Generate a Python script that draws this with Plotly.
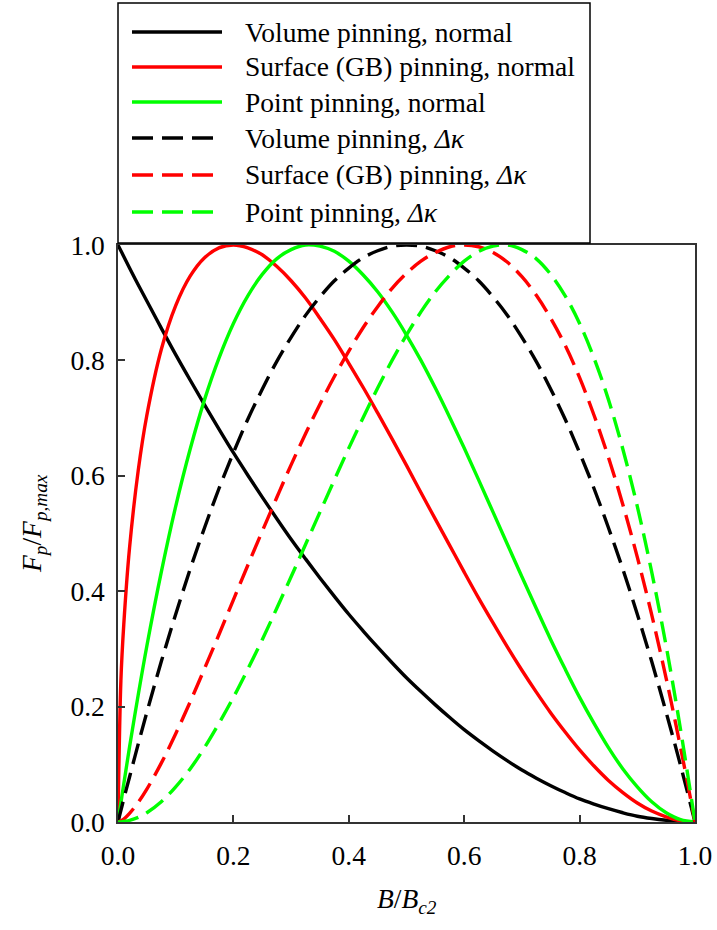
import plotly.graph_objects as go

# ---- data ----
b_field = [0, 0.005, 0.01, 0.02, 0.035, 0.05, 0.075, 0.1, 0.125, 0.15, 0.175, 0.2,
           0.225, 0.25, 0.275, 0.3, 0.325, 0.35, 0.375, 0.4, 0.425, 0.45, 0.475, 0.5,
           0.525, 0.55, 0.575, 0.6, 0.625, 0.65, 0.675, 0.7, 0.725, 0.75, 0.775, 0.8,
           0.825, 0.85, 0.875, 0.9, 0.925, 0.95, 0.975, 1.0]

volume_normal = [1.0, 0.990, 0.980, 0.960, 0.931, 0.903, 0.856, 0.810, 0.766, 0.723, 0.681, 0.640,
                 0.601, 0.563, 0.526, 0.490, 0.456, 0.423, 0.391, 0.360, 0.331, 0.303, 0.276, 0.250,
                 0.226, 0.203, 0.181, 0.160, 0.141, 0.123, 0.106, 0.090, 0.076, 0.063, 0.051, 0.040,
                 0.031, 0.023, 0.016, 0.010, 0.006, 0.003, 0.001, 0.0]
surface_normal = [0.0, 0.245, 0.342, 0.475, 0.609, 0.705, 0.819, 0.895, 0.946, 0.978, 0.995, 1.000,
                  0.995, 0.983, 0.963, 0.938, 0.908, 0.873, 0.836, 0.795, 0.753, 0.709, 0.664, 0.618,
                  0.571, 0.525, 0.479, 0.433, 0.388, 0.345, 0.303, 0.263, 0.225, 0.189, 0.156, 0.125,
                  0.097, 0.072, 0.051, 0.033, 0.019, 0.009, 0.002, 0.0]
point_normal = [0.0, 0.033, 0.066, 0.130, 0.220, 0.305, 0.433, 0.547, 0.646, 0.732, 0.804, 0.864,
                0.912, 0.949, 0.976, 0.992, 1.000, 0.998, 0.989, 0.972, 0.948, 0.919, 0.884, 0.844,
                0.800, 0.752, 0.701, 0.648, 0.593, 0.537, 0.481, 0.425, 0.370, 0.316, 0.265, 0.216,
                0.171, 0.129, 0.092, 0.061, 0.035, 0.016, 0.004, 0.0]
volume_dk = [0.0, 0.020, 0.040, 0.078, 0.135, 0.190, 0.278, 0.360, 0.438, 0.510, 0.578, 0.640,
             0.698, 0.750, 0.798, 0.840, 0.878, 0.910, 0.938, 0.960, 0.978, 0.990, 0.998, 1.000,
             0.998, 0.990, 0.978, 0.960, 0.938, 0.910, 0.878, 0.840, 0.798, 0.750, 0.698, 0.640,
             0.578, 0.510, 0.438, 0.360, 0.278, 0.190, 0.098, 0.0]
surface_dk = [0.0, 0.002, 0.005, 0.015, 0.034, 0.057, 0.102, 0.153, 0.208, 0.266, 0.325, 0.385,
              0.445, 0.504, 0.562, 0.619, 0.673, 0.724, 0.772, 0.816, 0.857, 0.893, 0.925, 0.951,
              0.972, 0.987, 0.997, 1.000, 0.997, 0.987, 0.970, 0.945, 0.913, 0.873, 0.826, 0.770,
              0.705, 0.632, 0.550, 0.459, 0.359, 0.249, 0.129, 0.0]
point_dk = [0.0, 0.000, 0.001, 0.003, 0.008, 0.016, 0.035, 0.061, 0.092, 0.129, 0.171, 0.216,
            0.265, 0.316, 0.370, 0.425, 0.481, 0.537, 0.593, 0.648, 0.701, 0.752, 0.800, 0.844,
            0.884, 0.919, 0.948, 0.972, 0.989, 0.998, 1.000, 0.992, 0.976, 0.949, 0.912, 0.864,
            0.804, 0.732, 0.646, 0.547, 0.433, 0.305, 0.160, 0.0]

series_names = ["Volume pinning, normal", "Surface (GB) pinning, normal", "Point pinning, normal",
                "Volume pinning, <i>Δκ</i>", "Surface (GB) pinning, <i>Δκ</i>", "Point pinning, <i>Δκ</i>"]
series_values = [volume_normal, surface_normal, point_normal, volume_dk, surface_dk, point_dk]
series_colors = ["#000000", "#ff0000", "#00ff00", "#000000", "#ff0000", "#00ff00"]
series_dash = ["solid", "solid", "solid", "21px,9px", "21px,9px", "21px,9px"]

x_ticks = [0.0, 0.2, 0.4, 0.6, 0.8, 1.0]
y_ticks = [0.0, 0.2, 0.4, 0.6, 0.8, 1.0]

FONT = "Liberation Serif"
FSIZE = 27.5

# plot-area pixel frame
L, R, T, B = 118, 695, 245, 822
W, H = 717, 930


def px_x(p):
    return (p - L) / (R - L)


def px_y(p):
    return (B - p) / (B - T)


fig = go.Figure()
for name, vals, col, dash in zip(series_names, series_values, series_colors, series_dash):
    fig.add_trace(go.Scatter(
        x=b_field, y=vals, mode="lines", name=name, showlegend=False,
        line=dict(color=col, width=3.4, dash=dash, shape="spline", smoothing=1.0),
    ))

# custom legend box
shapes = [dict(type="rect", xref="paper", yref="paper",
               x0=px_x(118), x1=px_x(590), y0=px_y(243), y1=px_y(3),
               line=dict(color="#000000", width=1.5), fillcolor="white", layer="above")]
annotations = []
row_y = [32, 67, 102, 138, 175, 212]
for ry, name, col, dash in zip(row_y, series_names, series_colors, series_dash):
    shapes.append(dict(type="line", xref="paper", yref="paper",
                       x0=px_x(132), x1=px_x(222), y0=px_y(ry), y1=px_y(ry),
                       line=dict(color=col, width=3.5, dash="solid" if dash == "solid" else "21px,9px"),
                       layer="above"))
    annotations.append(dict(xref="paper", yref="paper", x=px_x(243), y=px_y(ry),
                            text=name, showarrow=False, xanchor="left", yanchor="middle",
                            font=dict(family=FONT, size=FSIZE, color="#000000")))

# axis titles
annotations.append(dict(xref="paper", yref="paper", x=0.5, y=px_y(900),
                        text="<i>B</i>/<i>B</i><sub><i>c2</i></sub>", showarrow=False,
                        xanchor="center", yanchor="middle",
                        font=dict(family=FONT, size=FSIZE, color="#000000")))
annotations.append(dict(xref="paper", yref="paper", x=px_x(33), y=px_y(524),
                        text="<i>F</i><sub><i>p</i></sub>/<i>F</i><sub><i>p,max</i></sub>",
                        showarrow=False, textangle=-90, xanchor="center", yanchor="middle",
                        font=dict(family=FONT, size=FSIZE, color="#000000")))

axis_common = dict(
    showgrid=False, zeroline=False, showline=True, mirror=True,
    linecolor="#333333", linewidth=1.5,
    ticks="inside", ticklen=7, tickwidth=1.5, tickcolor="#333333",
    tickfont=dict(family=FONT, size=FSIZE, color="#000000"),
    tickformat=".1f",
)

fig.update_layout(
    width=W, height=H, autosize=False,
    margin=dict(l=L, r=W - R, t=T, b=H - B, autoexpand=False),
    paper_bgcolor="white", plot_bgcolor="white",
    font=dict(family=FONT, size=FSIZE, color="#000000"),
    xaxis=dict(range=[0, 1], tickvals=x_ticks, ticklabelstandoff=8, **axis_common),
    yaxis=dict(range=[0, 1], tickvals=y_ticks, ticklabelstandoff=6, **axis_common),
    shapes=shapes, annotations=annotations,
    showlegend=False,
)

fig.write_html("out.html", config={"responsive": False})
